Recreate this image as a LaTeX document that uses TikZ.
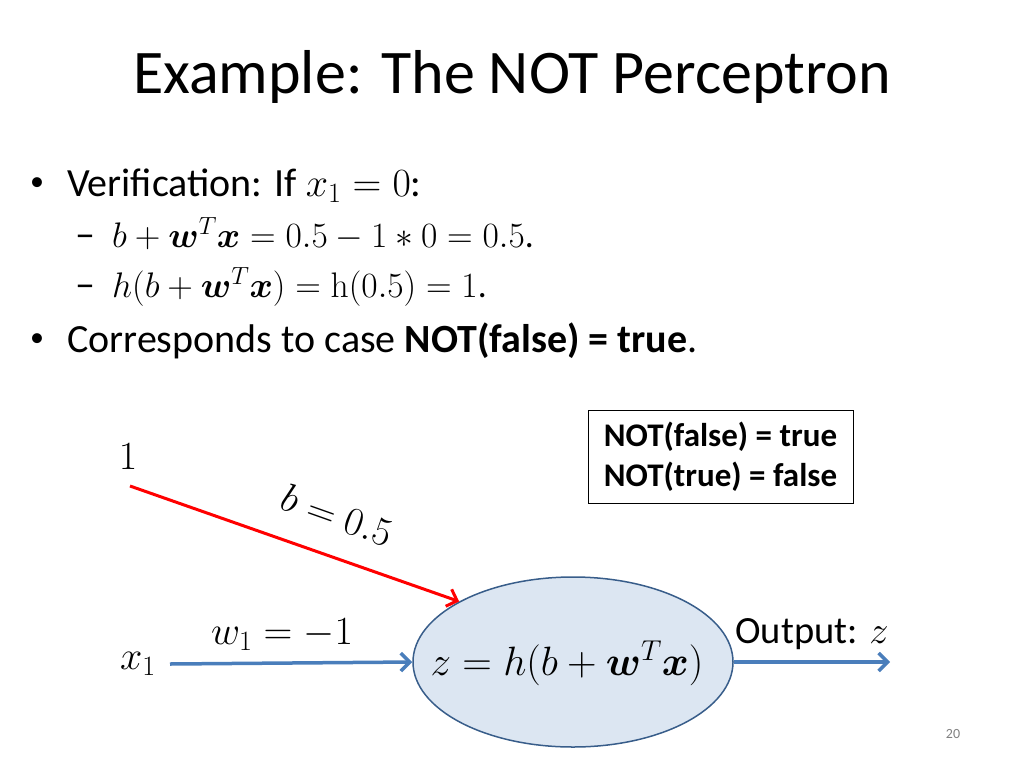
\RequirePackage{fix-cm}
\documentclass[tikz,border=0pt]{standalone}
\usepackage{amsmath}
\usepackage{bm}
\usepackage[no-math]{fontspec}
\setmainfont{Carlito}
\usetikzlibrary{arrows.meta, positioning, shapes.geometric}
\definecolor{wireblue}{RGB}{74,126,187}
\definecolor{cellfill}{RGB}{220,230,242}
\definecolor{cellline}{RGB}{56,93,138}
\newcommand{\titlesize}{\fontsize{62}{74}\selectfont}
\newcommand{\bodysize}{\fontsize{40}{48}\selectfont}
\newcommand{\subsize}{\fontsize{35.5}{42}\selectfont}
\newcommand{\boxsize}{\fontsize{33}{40}\selectfont}

\begin{document}
\begin{tikzpicture}[x=1pt,y=-1pt,
  txt/.style={inner sep=0pt, anchor=base west},
  wire/.style={draw=wireblue, line width=3.5pt, -{Straight Barb[length=9pt,width=18pt,line width=3.5pt]}},
  biaswire/.style={draw=red, line width=3pt, -{Straight Barb[length=9pt,width=18pt,line width=3pt]}},
  neuron/.style={ellipse, draw=cellline, line width=1.5pt, fill=cellfill, minimum width=320pt, minimum height=170pt, inner sep=0pt}]
\useasboundingbox (0,0) rectangle (1024,768);

% title and bullets
\node[txt] (title) at (133,93) {\titlesize Example: The NOT Perceptron};
\node[txt] (dot1) at (30,190) {\fontsize{28}{30}\selectfont •};
\node[txt] (line1) at (67,196) {\bodysize Verification: If $x_1 = 0$:};
\node[txt] (dash1) at (75,247) {\fontsize{40}{44}\selectfont –};
\node[txt] (line2) at (112,247) {\subsize $b + \bm{w}^T\bm{x} = 0.5 - 1 * 0 = 0.5$.};
\node[txt] (dash2) at (75,297) {\fontsize{40}{44}\selectfont –};
\node[txt] (line3) at (112,297) {\subsize $h(b + \bm{w}^T\bm{x}) = \mathrm{h}(0.5) = 1$.};
\node[txt] (dot2) at (30,346) {\fontsize{28}{30}\selectfont •};
\node[txt] (line4) at (67,352) {\bodysize Corresponds to case \textbf{NOT(false) = true}.};

% truth table box
\node[draw, line width=0.8pt, minimum width=265pt, minimum height=93pt, align=left, inner sep=0pt, font=\boxsize\bfseries] (table) at (720.5,456.5)
  {NOT(false) = true\\ NOT(true) = false};

% perceptron
\node[neuron] (cell) at (573,662) {};
\node (rule) at (567,663) {\fontsize{41}{48}\selectfont $z = h(b + \bm{w}^T\bm{x})$};
\node (one) at (128,457) {\fontsize{40}{44}\selectfont $1$};
\node[inner sep=2pt] (xin) at (138,664) {\fontsize{40}{44}\selectfont $x_1$};
\coordinate (biasin) at (130,486);
\coordinate (zout) at (890,662);

\draw[biaswire] (biasin) -- (cell.152);
\draw[wire] ([xshift=12pt]xin.east) -- (cell.west);
\draw[wire] (cell.east) -- (zout);

\node[rotate=-19.5] (blabel) at (337,515) {\fontsize{40}{44}\selectfont $b = 0.5$};
\node (wlabel) at (282,635) {\fontsize{40}{44}\selectfont $w_1 = -1$};
\node (outlabel) at (812,634) {\fontsize{38.5}{44}\selectfont Output: $z$};

\node[text=gray] (page) at (953,734) {\fontsize{14}{16}\selectfont 20};
\end{tikzpicture}
\end{document}
